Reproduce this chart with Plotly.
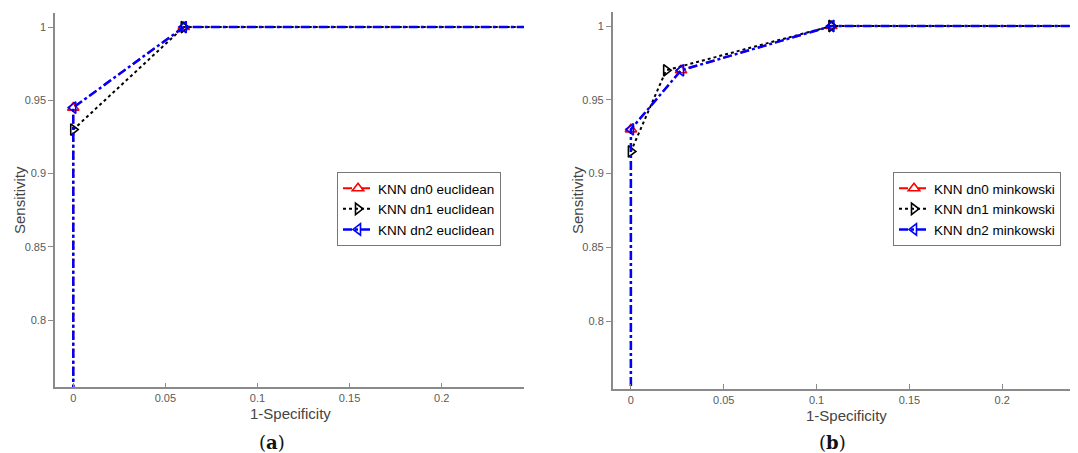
import plotly.graph_objects as go

# Panel (a): euclidean
a_dn0_x = [0, 0, 0.06, 1]
a_dn0_y = [0, 0.945, 1, 1]
a_dn1_x = [0, 0, 0.06, 1]
a_dn1_y = [0, 0.93, 1, 1]
a_dn2_x = [0, 0, 0.06, 1]
a_dn2_y = [0, 0.945, 1, 1]

# Panel (b): minkowski
b_dn0_x = [0, 0, 0.027, 0.108, 1]
b_dn0_y = [0, 0.93, 0.97, 1, 1]
b_dn1_x = [0, 0, 0.019, 0.108, 1]
b_dn1_y = [0, 0.915, 0.97, 1, 1]
b_dn2_x = [0, 0, 0.027, 0.108, 1]
b_dn2_y = [0, 0.93, 0.97, 1, 1]

names_a = ["KNN dn0 euclidean", "KNN dn1 euclidean", "KNN dn2 euclidean"]
names_b = ["KNN dn0 minkowski", "KNN dn1 minkowski", "KNN dn2 minkowski"]

x_ticks = [0, 0.05, 0.1, 0.15, 0.2]
y_ticks = [0.8, 0.85, 0.9, 0.95, 1]

styles = [
    dict(color="#ff0000", dash="dash", symbol="triangle-up-open", width=2),
    dict(color="#000000", dash="dot", symbol="triangle-right-open", width=2),
    dict(color="#0000ff", dash="dashdot", symbol="triangle-left-open", width=2.5),
]

fig = go.Figure()

def add(xs, ys, name, st, xa, ya, leg):
    fig.add_trace(go.Scatter(
        x=xs, y=ys, name=name, mode="lines+markers",
        line=dict(color=st["color"], dash=st["dash"], width=st["width"]),
        marker=dict(symbol=st["symbol"], size=10, color=st["color"],
                    line=dict(width=1.6, color=st["color"])),
        xaxis=xa, yaxis=ya, legend=leg,
    ))

for xs, ys, nm, st in zip([a_dn0_x, a_dn1_x, a_dn2_x], [a_dn0_y, a_dn1_y, a_dn2_y], names_a, styles):
    add(xs, ys, nm, st, "x", "y", "legend")
for xs, ys, nm, st in zip([b_dn0_x, b_dn1_x, b_dn2_x], [b_dn0_y, b_dn1_y, b_dn2_y], names_b, styles):
    add(xs, ys, nm, st, "x2", "y2", "legend2")

# page has an 8px body margin; figure occupies 8..1078 x 8..453
OFF = 8
W, H = 1078 - OFF, 453 - OFF

def px(x):
    return (x - OFF) / W

def py(y):
    return 1 - (y - OFF) / H

axis_color = "#8a8a8a"
tick_font = dict(family="Liberation Sans, Arial, sans-serif", size=11, color="#5a5a5a")

def xaxis(domain, rng, anchor):
    return dict(domain=domain, range=rng, anchor=anchor, tickvals=x_ticks,
                showline=True, linecolor=axis_color, linewidth=1.5, mirror=False,
                ticks="inside", ticklen=5, tickcolor=axis_color, tickwidth=1,
                showgrid=False, zeroline=False, tickfont=tick_font)

def yaxis(domain, rng, anchor):
    return dict(domain=domain, range=rng, anchor=anchor, tickvals=y_ticks,
                showline=True, linecolor=axis_color, linewidth=1.5, mirror=False,
                ticks="outside", ticklen=5, tickcolor=axis_color, tickwidth=1,
                showgrid=False, zeroline=False, tickfont=tick_font)

leg_font = dict(family="Liberation Sans, Arial, sans-serif", size=13.5, color="#000000")

fig.update_layout(
    width=W, height=H,
    margin=dict(l=0, r=0, t=0, b=0),
    paper_bgcolor="white", plot_bgcolor="white",
    xaxis=xaxis([px(55), px(524)], [-0.0099, 0.2447], "y"),
    yaxis=yaxis([py(387.4), py(12.7)], [0.754, 1.0098], "x"),
    xaxis2=xaxis([px(612.7), 1.0], [-0.0098, 0.2408], "y2"),
    yaxis2=yaxis([py(389.1), py(11.7)], [0.754, 1.0097], "x2"),
    legend=dict(x=px(337), y=py(172), xanchor="left", yanchor="top",
                bordercolor="#777777", borderwidth=1, bgcolor="white",
                font=leg_font, tracegroupgap=0, itemwidth=30),
    legend2=dict(x=px(893), y=py(172), xanchor="left", yanchor="top",
                 bordercolor="#777777", borderwidth=1, bgcolor="white",
                 font=leg_font, tracegroupgap=0, itemwidth=30),
    showlegend=True,
)

title_font = dict(family="Liberation Sans, Arial, sans-serif", size=15, color="#444444")
cap_font = dict(family="DejaVu Serif, Liberation Serif, serif", size=18, color="#111111")

ann = [
    dict(x=px(290), y=py(413), text="1-Specificity", font=title_font),
    dict(x=px(846), y=py(415), text="1-Specificity", font=title_font),
    dict(x=px(19), y=py(200), text="Sensitivity", font=title_font, textangle=-90),
    dict(x=px(577), y=py(200), text="Sensitivity", font=title_font, textangle=-90),
    dict(x=px(272), y=py(442), text="(<b>a</b>)", font=cap_font),
    dict(x=px(832), y=py(442), text="(<b>b</b>)", font=cap_font),
]
for a in ann:
    a.update(xref="paper", yref="paper", showarrow=False, xanchor="center", yanchor="middle")
fig.update_layout(annotations=ann)

fig.write_html("out.html")
